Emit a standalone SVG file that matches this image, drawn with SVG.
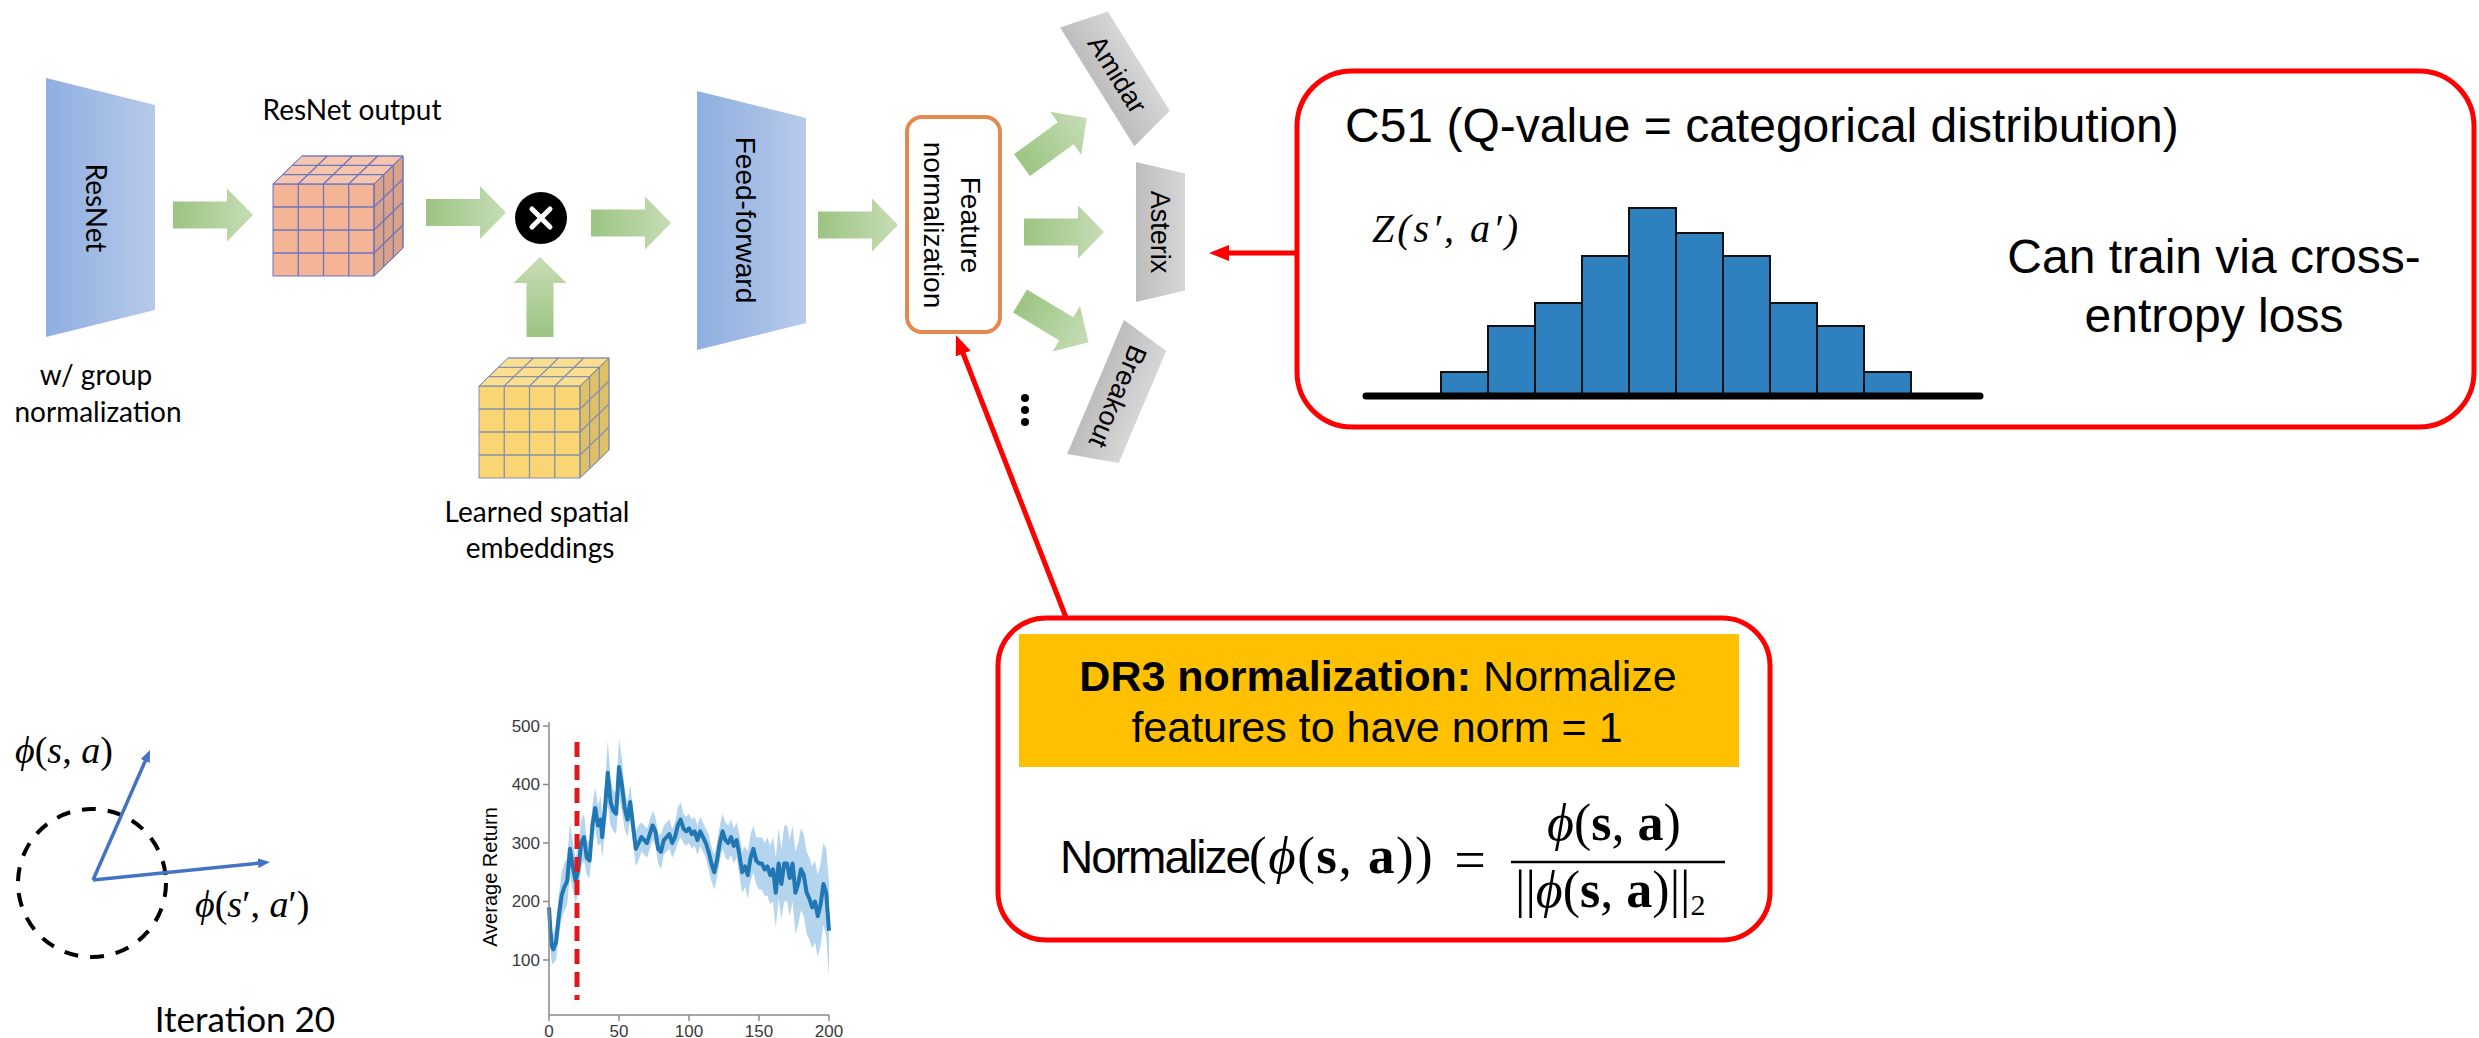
<svg xmlns="http://www.w3.org/2000/svg" width="2479" height="1038" viewBox="0 0 2479 1038">
  <style>
    .lato { font-family: Lato, "Liberation Sans", sans-serif; fill: #000; }
    .sans { font-family: "Liberation Sans", Arial, sans-serif; fill: #000; }
    .serif { font-family: "Liberation Serif", "DejaVu Serif", serif; fill: #000; }
    .it { font-style: italic; }
    .red-box { fill: #fff; stroke: #ff0000; stroke-width: 5; }
    .red-link { stroke: #ff0000; stroke-width: 5; fill: none; }
    .grid { fill: none; stroke-width: 1.3; }
    .vec { stroke: #4472C4; stroke-width: 3.5; fill: none; }
    .tick { font-family: "Liberation Sans", Arial, sans-serif; font-size: 17px; fill: #3a3a3a; }
    .axis { stroke: #8a8a8a; stroke-width: 1.5; fill: none; }
  </style>
  <defs>
    <linearGradient id="gBlue" x1="0" y1="0" x2="1" y2="0">
      <stop offset="0" stop-color="#8FAEDF"/>
      <stop offset="1" stop-color="#B7CAEA"/>
    </linearGradient>
    <linearGradient id="gGreen" x1="0" y1="0" x2="1" y2="0">
      <stop offset="0" stop-color="#9CC482"/>
      <stop offset="1" stop-color="#C6DDB5"/>
    </linearGradient>
    <linearGradient id="gGray" x1="0" y1="0" x2="1" y2="0">
      <stop offset="0" stop-color="#BDBDBD"/>
      <stop offset="1" stop-color="#D6D6D6"/>
    </linearGradient>
    <!-- block arrow, tail at origin pointing along +x -->
    <path id="blk" d="M0,-13.5H54V-26.5L80,0L54,26.5V13.5H0Z" fill="url(#gGreen)"/>
    <!-- trapezoid layer block -->
    <path id="trap" d="M0,0L109,27L109,232L0,259Z" fill="url(#gBlue)"/>
    <!-- game head tag -->
    <path id="tag" d="M-24.5,-70L24.5,-58.5L24.5,58.5L-24.5,70Z" fill="url(#gGray)"/>
    <!-- feature cube: faces take currentColor, grid takes stroke -->
    <g id="cube">
      <rect x="0" y="0" width="101" height="92" fill="currentColor"/>
      <path d="M0,0L101,0L130,-28L29,-28Z" fill="currentColor"/>
      <path d="M0,0L101,0L130,-28L29,-28Z" fill="#fff" fill-opacity="0.22"/>
      <path d="M101,0L130,-28L130,64L101,92Z" fill="currentColor"/>
      <path d="M101,0L130,-28L130,64L101,92Z" fill="#000" fill-opacity="0.1"/>
      <path class="grid" d="M25.25,0V92M50.5,0V92M75.75,0V92M0,23H101M0,46H101M0,69H101
        M25.25,0L54.25,-28M50.5,0L79.5,-28M75.75,0L104.75,-28M9.67,-9.33H110.67M19.33,-18.67H120.33
        M101,23L130,-5M101,46L130,18M101,69L130,41M110.67,-9.33V82.67M120.33,-18.67V73.33"/>
    </g>
    <marker id="redHead" markerUnits="userSpaceOnUse" markerWidth="20" markerHeight="18" refX="5" refY="8" orient="auto">
      <path d="M0,0L20,8L0,16Z" fill="#ff0000"/>
    </marker>
    <marker id="blueHead" markerUnits="userSpaceOnUse" markerWidth="14" markerHeight="12" refX="2" refY="5" orient="auto">
      <path d="M0,0L12,5L0,10Z" fill="#4472C4"/>
    </marker>
  </defs>

  <rect width="2479" height="1038" fill="#fff"/>

  <!-- connectors -->
  <g id="connectors">
    <use href="#blk" transform="translate(173,215)"/>
    <use href="#blk" transform="translate(426,212.5)"/>
    <use href="#blk" transform="translate(540,337) rotate(-90)"/>
    <use href="#blk" transform="translate(591,223)"/>
    <use href="#blk" transform="translate(818,225)"/>
    <use href="#blk" transform="translate(1022,165) rotate(-36)"/>
    <use href="#blk" transform="translate(1024,232)"/>
    <use href="#blk" transform="translate(1020,301) rotate(31)"/>
    <line class="red-link" x1="1297" y1="253" x2="1224" y2="253" marker-end="url(#redHead)"/>
    <line class="red-link" x1="1067" y1="620" x2="961.4" y2="349" marker-end="url(#redHead)"/>
  </g>

  <!-- ResNet encoder -->
  <g id="resnet">
    <use href="#trap" transform="translate(46,78)"/>
    <text class="lato" font-size="28" text-anchor="middle" transform="translate(86,208) rotate(90)">ResNet</text>
    <text class="lato" font-size="28" text-anchor="middle" x="96" y="385">w/ group</text>
    <text class="lato" font-size="28" text-anchor="middle" x="98" y="422">normalization</text>
  </g>

  <!-- ResNet output tensor -->
  <g id="resnet-output">
    <text class="lato" font-size="28" text-anchor="middle" x="352" y="120">ResNet output</text>
    <use href="#cube" transform="translate(273,184)" color="#F4B596" stroke="#6D74C2"/>
  </g>

  <!-- elementwise product -->
  <g id="multiply">
    <circle cx="541" cy="218" r="26" fill="#000"/>
    <path d="M532,209L550,227M550,209L532,227" stroke="#fff" stroke-width="5" stroke-linecap="round"/>
  </g>

  <!-- spatial embeddings tensor -->
  <g id="spatial-embeddings">
    <use href="#cube" transform="translate(479,386)" color="#F9D673" stroke="#8591AC"/>
    <text class="lato" font-size="28" text-anchor="middle" x="537" y="522">Learned spatial</text>
    <text class="lato" font-size="28" text-anchor="middle" x="540" y="558">embeddings</text>
  </g>

  <!-- feed-forward block -->
  <g id="feed-forward">
    <use href="#trap" transform="translate(697,91)"/>
    <text class="sans" font-size="28" text-anchor="middle" transform="translate(736,220) rotate(90)">Feed-forward</text>
  </g>

  <!-- feature normalization -->
  <g id="feature-normalization">
    <rect x="907" y="117" width="93" height="215" rx="15" fill="#fff" stroke="#E3884E" stroke-width="4"/>
    <text class="sans" font-size="28" text-anchor="middle" transform="translate(961,225) rotate(90)">Feature</text>
    <text class="sans" font-size="28" text-anchor="middle" transform="translate(924,225) rotate(90)">normalization</text>
  </g>

  <!-- per-game heads -->
  <g id="head-amidar" transform="translate(1118,74) rotate(-32)">
    <use href="#tag"/>
    <text class="sans" font-size="27" text-anchor="middle" transform="rotate(90)" y="10">Amidar</text>
  </g>
  <g id="head-asterix" transform="translate(1160.5,232)">
    <use href="#tag"/>
    <text class="sans" font-size="27" text-anchor="middle" transform="rotate(90)" y="10">Asterix</text>
  </g>
  <g id="head-breakout" transform="translate(1119,397) rotate(23) scale(1.04)">
    <use href="#tag"/>
    <text class="sans" font-size="26" text-anchor="middle" transform="rotate(90)" y="10">Breakout</text>
  </g>
  <g id="more-heads" fill="#000">
    <circle cx="1025" cy="398" r="4"/>
    <circle cx="1025" cy="410" r="4"/>
    <circle cx="1025" cy="422" r="4"/>
  </g>

  <!-- C51 callout -->
  <g id="c51">
    <rect class="red-box" x="1297" y="71" width="1177" height="356" rx="55"/>
    <text class="sans" font-size="48" x="1345" y="142">C51 (Q-value = categorical distribution)</text>
    <text class="serif it" font-size="40" letter-spacing="3" x="1372" y="242">Z(s′, a′)</text>
    <g fill="#2E81BE" stroke="#111" stroke-width="2">
      <rect x="1441" y="372" width="47" height="22"/>
      <rect x="1488" y="326" width="47" height="68"/>
      <rect x="1535" y="303" width="47" height="91"/>
      <rect x="1582" y="256" width="47" height="138"/>
      <rect x="1629" y="208" width="47" height="186"/>
      <rect x="1676" y="233" width="47" height="161"/>
      <rect x="1723" y="256" width="47" height="138"/>
      <rect x="1770" y="303" width="47" height="91"/>
      <rect x="1817" y="326" width="47" height="68"/>
      <rect x="1864" y="372" width="47" height="22"/>
    </g>
    <line x1="1366" y1="396" x2="1980" y2="396" stroke="#000" stroke-width="7" stroke-linecap="round"/>
    <text class="sans" font-size="48" text-anchor="middle" x="2214" y="273">Can train via cross-</text>
    <text class="sans" font-size="48" text-anchor="middle" x="2214" y="332">entropy loss</text>
  </g>

  <!-- DR3 callout -->
  <g id="dr3">
    <rect class="red-box" x="998" y="618" width="772" height="322" rx="48"/>
    <rect x="1019" y="634" width="720" height="133" fill="#FFC000"/>
    <text class="sans" font-size="43" text-anchor="middle" x="1378" y="691"><tspan font-weight="bold">DR3 normalization:</tspan> Normalize</text>
    <text class="sans" font-size="43" text-anchor="middle" x="1377" y="742">features to have norm = 1</text>
    <text x="1060" y="873"><tspan class="sans" font-size="46" letter-spacing="-2">Normalize</tspan><tspan class="serif" font-size="53" letter-spacing="1.5">(<tspan class="it">ϕ</tspan>(<tspan font-weight="bold">s</tspan>, <tspan font-weight="bold">a</tspan>))</tspan></text>
    <text class="serif" font-size="56" text-anchor="middle" x="1470" y="879">=</text>
    <line x1="1511" y1="862" x2="1725" y2="862" stroke="#000" stroke-width="2.5"/>
    <text class="serif" font-size="52" text-anchor="middle" x="1614" y="840"><tspan class="it">ϕ</tspan>(<tspan font-weight="bold">s</tspan>, <tspan font-weight="bold">a</tspan>)</text>
    <text class="serif" font-size="52" x="1515" y="907">||<tspan class="it">ϕ</tspan>(<tspan font-weight="bold">s</tspan>, <tspan font-weight="bold">a</tspan>)||<tspan font-size="30" dy="8">2</tspan></text>
  </g>

  <!-- feature vectors on the unit circle -->
  <g id="unit-circle">
    <circle cx="92" cy="883" r="74" fill="none" stroke="#000" stroke-width="4" stroke-dasharray="14 12"/>
    <line class="vec" x1="93" y1="880" x2="146" y2="759.2" marker-end="url(#blueHead)"/>
    <line class="vec" x1="93" y1="880" x2="260" y2="863" marker-end="url(#blueHead)"/>
    <text class="serif" font-size="38" x="15" y="763"><tspan class="it">ϕ</tspan>(<tspan class="it">s</tspan>, <tspan class="it">a</tspan>)</text>
    <text class="serif" font-size="38" x="195" y="917"><tspan class="it">ϕ</tspan>(<tspan class="it">s</tspan>′, <tspan class="it">a</tspan>′)</text>
    <text class="lato" font-size="35" text-anchor="middle" x="245" y="1032">Iteration 20</text>
  </g>

  <!-- return curve -->
  <g id="return-chart">
    <g transform="translate(549,1018.5) scale(1.4,-0.585)">
      <polygon fill="#A8CDEA" fill-opacity="0.85" points="0,215 1,180 2,155 3,143 5,160 7,210 9,250 11,265 13,275 15,335 17,300 19,275 21,295 23,340 25,350 27,305 29,300 31,365 33,395 35,365 37,380 38,345 40,400 42,475 44,410 46,390 48,385 50,480 52,445 54,395 56,370 58,400 60,360 62,320 64,330 66,335 68,330 70,325 72,340 74,355 76,345 78,315 80,315 82,330 84,335 86,340 88,325 90,335 92,360 94,370 96,350 98,345 100,350 102,340 104,345 106,330 108,345 110,335 112,325 114,315 116,295 118,280 120,300 122,330 124,350 126,335 128,330 130,340 132,325 134,335 136,315 138,285 140,295 142,285 144,315 146,330 148,310 150,310 152,310 154,300 156,310 158,295 160,310 162,275 164,325 166,290 168,330 170,330 172,305 174,330 176,285 178,300 180,325 182,315 184,285 186,275 188,260 190,270 192,245 194,265 196,300 198,290 200,230 200,70 198,140 196,160 194,125 192,105 190,130 188,120 186,135 184,145 182,175 180,185 178,160 176,145 174,200 172,175 170,200 168,200 166,170 164,205 162,155 160,200 158,195 156,210 154,210 152,220 150,220 148,230 146,250 144,235 142,205 140,225 138,215 136,245 134,275 132,265 130,280 128,270 126,275 124,290 122,270 120,240 118,220 116,235 114,255 112,275 110,285 108,295 106,280 104,295 102,290 100,300 98,295 96,300 94,310 92,300 90,285 88,275 86,290 84,285 82,280 80,255 78,265 76,295 74,305 72,290 70,275 68,280 66,285 64,270 62,260 60,300 58,340 56,310 54,325 52,355 50,380 48,315 46,320 44,330 42,365 40,320 38,275 37,300 35,295 33,325 31,295 29,240 27,245 25,270 23,260 21,215 19,195 17,220 15,245 13,195 11,185 9,170 7,140 5,100 3,93 2,95 1,120 0,165"/>
      <polyline fill="none" stroke="#1F77B4" stroke-width="4" stroke-linejoin="round" vector-effect="non-scaling-stroke" points="0,190 1,150 2,125 3,118 5,130 7,175 9,210 11,225 13,235 15,290 17,260 19,235 21,255 23,300 25,310 27,275 29,270 31,330 33,360 35,330 37,340 38,310 40,360 42,420 44,370 46,355 48,350 50,430 52,400 54,360 56,340 58,370 60,330 62,290 64,300 66,310 68,305 70,300 72,315 74,330 76,320 78,290 80,285 82,305 84,310 86,315 88,300 90,310 92,330 94,340 96,325 98,320 100,325 102,315 104,320 106,305 108,320 110,310 112,300 114,285 116,265 118,250 120,270 122,300 124,320 126,305 128,300 130,310 132,295 134,305 136,280 138,250 140,260 142,245 144,275 146,290 148,270 150,265 152,265 154,255 156,260 158,245 160,255 162,215 164,265 166,230 168,265 170,265 172,240 174,265 176,215 178,230 180,255 182,245 184,215 186,205 188,190 190,200 192,175 194,195 196,230 198,215 200,150"/>
    </g>
    <line x1="577" y1="742" x2="577" y2="1000" stroke="#E0181B" stroke-width="5" stroke-dasharray="15 8"/>
    <path class="axis" d="M549,722V1015H829M543,726H549M543,784.5H549M543,843H549M543,901.5H549M543,960H549M549,1015V1021M619,1015V1021M689,1015V1021M759,1015V1021M829,1015V1021"/>
    <g class="tick" text-anchor="end">
      <text x="540" y="732">500</text>
      <text x="540" y="790">400</text>
      <text x="540" y="849">300</text>
      <text x="540" y="907">200</text>
      <text x="540" y="966">100</text>
    </g>
    <g class="tick" text-anchor="middle">
      <text x="549" y="1037">0</text>
      <text x="619" y="1037">50</text>
      <text x="689" y="1037">100</text>
      <text x="759" y="1037">150</text>
      <text x="829" y="1037">200</text>
    </g>
    <text class="sans" font-size="20" fill="#333" text-anchor="middle" transform="translate(497,877) rotate(-90)">Average Return</text>
  </g>
</svg>
